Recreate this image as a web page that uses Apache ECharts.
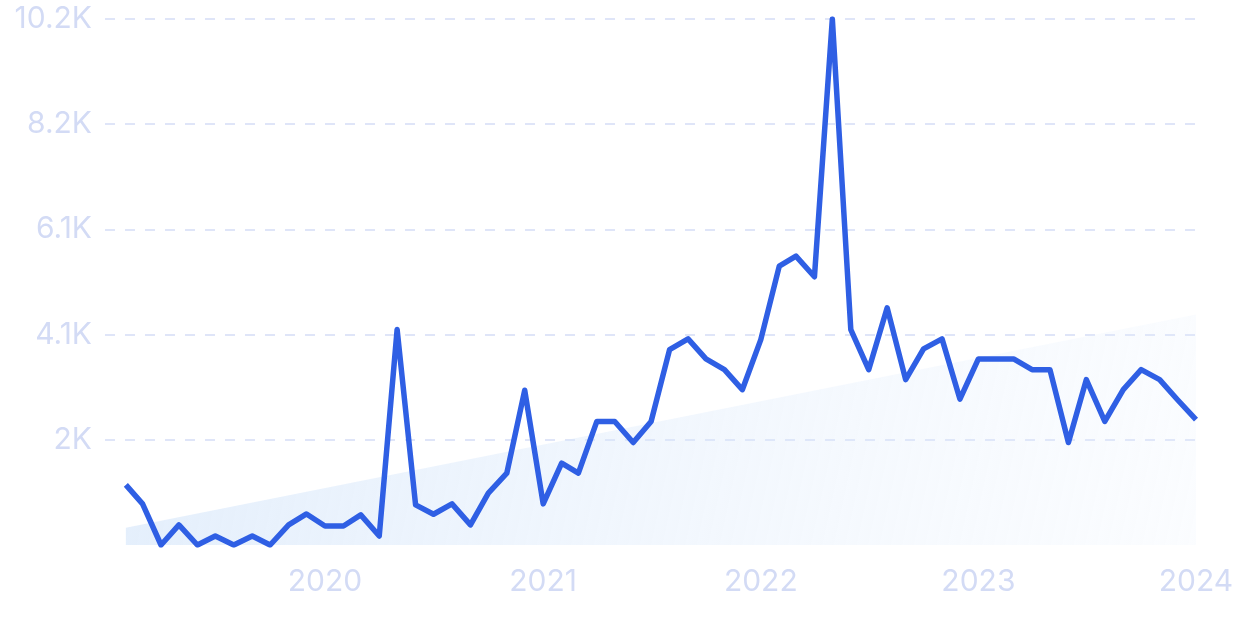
<!DOCTYPE html>
<html>
<head>
<meta charset="utf-8">
<script src="https://cdn.jsdelivr.net/npm/echarts@6/dist/echarts.min.js"></script>
<style>
  html, body { margin: 0; padding: 0; background: #ffffff; }
  #chart { width: 1240px; height: 620px; }
</style>
</head>
<body>
<div id="chart"></div>
<script>
// Monthly points, Feb 2019 .. Jan 2024
const months = [
  '2019-02','2019-03','2019-04','2019-05','2019-06','2019-07','2019-08','2019-09','2019-10','2019-11','2019-12',
  '2020-01','2020-02','2020-03','2020-04','2020-05','2020-06','2020-07','2020-08','2020-09','2020-10','2020-11','2020-12',
  '2021-01','2021-02','2021-03','2021-04','2021-05','2021-06','2021-07','2021-08','2021-09','2021-10','2021-11','2021-12',
  '2022-01','2022-02','2022-03','2022-04','2022-05','2022-06','2022-07','2022-08','2022-09','2022-10','2022-11','2022-12',
  '2023-01','2023-02','2023-03','2023-04','2023-05','2023-06','2023-07','2023-08','2023-09','2023-10','2023-11','2023-12',
  '2024-01'
];
const values = [
  1166, 797, 0, 389, 0, 175, 0, 175, 0, 389, 602,
  369, 369, 583, 175, 4180, 777, 596, 797, 389, 1004, 1393, 3000,
  797, 1587, 1393, 2396, 2396, 1988, 2396, 3789, 3997, 3608, 3400, 3012,
  3983, 5407, 5602, 5201, 10200, 4178, 3400, 4599, 3206, 3802, 3997, 2830,
  3608, 3608, 3608, 3400, 3400, 1988, 3206, 2396, 3012, 3400, 3206, 2817,
  2429
];
// Trend (start and end of the shaded band)
const trendMonths = ['2019-02', '2024-01'];
const trendValues = [336, 4469];
// Axis ticks
const yearTicks = ['2020-01', '2021-01', '2022-01', '2023-01', '2024-01'];
const yTicks = [0, 2040, 4080, 6120, 8160, 10200];

function ts(m) { const [y, mo] = m.split('-').map(Number); return Date.UTC(y, mo - 1, 1); }

const lineData = months.map((m, i) => [ts(m), values[i]]);
const trendData = trendMonths.map((m, i) => [ts(m), trendValues[i]]);

const chart = echarts.init(document.getElementById('chart'), null, { renderer: 'canvas' });
const labelFont = { color: '#d3dbf5', fontFamily: 'Inter', fontSize: 30 };

chart.setOption({
  animation: false,
  grid: { left: 105, right: 44, top: 19, bottom: 75, containLabel: false },
  xAxis: {
    type: 'value',
    min: ts(months[0]) - 35 * 86400000,
    max: ts(months[months.length - 1]),
    axisLine: { show: false },
    axisTick: { show: false },
    splitLine: { show: false },
    axisLabel: Object.assign({}, labelFont, {
      customValues: yearTicks.map(ts),
      formatter: v => String(new Date(v).getUTCFullYear()),
      margin: 22,
      showMinLabel: true,
      showMaxLabel: true,
      hideOverlap: false
    })
  },
  yAxis: {
    type: 'value',
    min: yTicks[0],
    max: yTicks[yTicks.length - 1],
    interval: yTicks[1] - yTicks[0],
    axisLine: { show: false },
    axisTick: { show: false },
    splitLine: { show: true, showMinLine: false, lineStyle: { color: '#dfe5f8', width: 2, type: [10, 10] } },
    axisLabel: Object.assign({}, labelFont, {
      margin: 13,
      formatter: v => v === 0 ? '' : (Math.round(v / 100) / 10) + 'K'
    })
  },
  series: [
    {
      type: 'line',
      data: trendData,
      symbol: 'none',
      lineStyle: { width: 0 },
      areaStyle: {
        color: new echarts.graphic.LinearGradient(0, 0, 1, 1, [
          { offset: 0, color: 'rgba(205,225,249,0.8)' },
          { offset: 1, color: 'rgba(230,240,253,0.25)' }
        ])
      },
      z: 1,
      silent: true
    },
    {
      type: 'line',
      data: lineData,
      symbol: 'none',
      lineStyle: { color: '#2f5fe4', width: 5.5, join: 'round' },
      z: 3
    }
  ]
});
</script>
</body>
</html>
